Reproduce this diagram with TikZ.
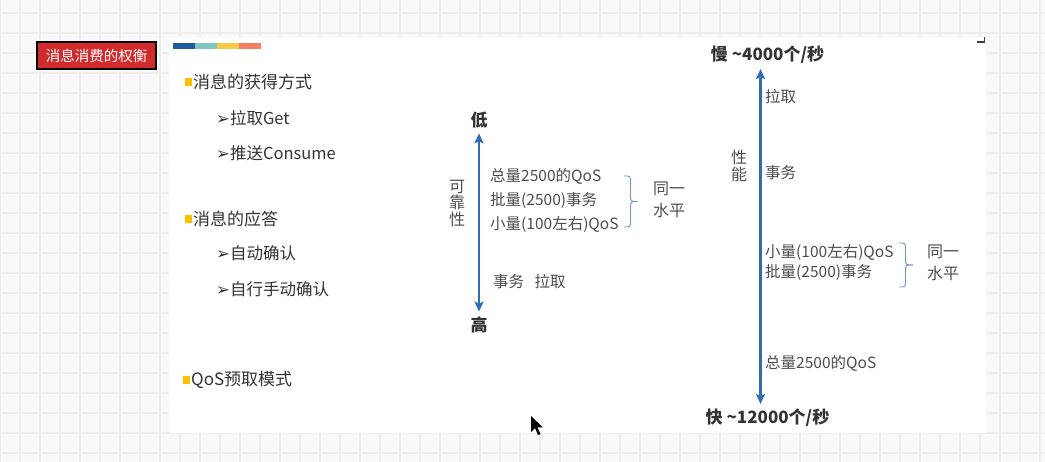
\documentclass[tikz,border=0pt]{standalone}
\usepackage{fontspec}
\setmainfont{Noto Sans CJK SC}
\newfontfamily\dingfont{DejaVu Sans}
\usetikzlibrary{arrows.meta,positioning}

\definecolor{gridbg}{HTML}{F9F9F9}
\definecolor{gridgray}{HTML}{EEEEEE}
\definecolor{titlered}{HTML}{D12B2B}
\definecolor{barblue}{HTML}{1F5C9E}
\definecolor{barteal}{HTML}{7FC6C3}
\definecolor{baryellow}{HTML}{F7C948}
\definecolor{barsalmon}{HTML}{F47E5F}
\definecolor{bulletyellow}{HTML}{FFC000}
\definecolor{maintext}{HTML}{333333}
\definecolor{labeltext}{HTML}{4D4D4D}
\definecolor{axisblue}{HTML}{2F6EB5}
\definecolor{braceblue}{HTML}{6A93C8}

\begin{document}
\begin{tikzpicture}[x=1pt, y=-1pt,
    gridline/.style={draw=gridgray, line width=1.5pt},
    titlebox/.style={fill=titlered, draw=black, line width=2pt, text=white,
      minimum width=119pt, minimum height=27pt, inner sep=0pt,
      font=\fontsize{14.5}{17}\selectfont},
    headitem/.style={anchor=west, inner sep=0pt, text=maintext,
      font=\fontsize{17}{20}\selectfont},
    subitem/.style={anchor=west, inner sep=0pt, text=maintext,
      font=\fontsize{16.5}{20}\selectfont},
    sqbullet/.style={fill=bulletyellow, minimum width=7pt, minimum height=8pt, inner sep=0pt},
    axisend/.style={inner sep=5pt, text=maintext, font=\bfseries\fontsize{17}{20}\selectfont},
    axislabel/.style={anchor=west, inner sep=0pt, text=labeltext,
      font=\fontsize{15.5}{19}\selectfont},
    sidelabel/.style={align=center, inner sep=0pt, text=labeltext,
      font=\fontsize{16}{16.5}\selectfont},
    levellabel/.style={align=center, inner sep=0pt, text=labeltext,
      font=\fontsize{16}{22}\selectfont},
    axisarrow/.style={{Stealth[length=10pt,width=9pt,inset=2pt]}-{Stealth[length=10pt,width=9pt,inset=2pt]},
      draw=axisblue, line width=2.2pt},
    levelbrace/.style={draw=braceblue, line width=0.9pt, rounded corners=3pt}]
  \useasboundingbox (0,0) rectangle (1045,462);

  % Background grid
  \fill[gridbg] (0,0) rectangle (1045,462);
  \foreach \gx in {0,20,...,1040} \draw[gridline] (\gx,0) -- (\gx,462);
  \foreach \gy in {13,33,...,453} \draw[gridline] (0,\gy) -- (1045,\gy);

  % Slide
  \fill[white] (169,37) rectangle (986,433);
  \draw[darkgray, line width=1.5pt] (977,42) -- (984.5,42) -- (984.5,37);

  % Title
  \node[titlebox] (title) at (96.5,55.5) {消息消费的权衡};

  % Colour bar
  \foreach \c [count=\i from 0] in {barblue,barteal,baryellow,barsalmon}
    \fill[\c] (173+22*\i,43) rectangle (195+22*\i,49);

  % Bullet items
  \node[headitem] (getHead) at (193,82) {消息的获得方式};
  \node[sqbullet, left=1pt of getHead] (getSq) {};
  \node[subitem] (pull) at (216,118) {{\dingfont\bfseries ➢}拉取Get};
  \node[subitem] (push) at (216,153) {{\dingfont\bfseries ➢}推送Consume};

  \node[headitem] (ackHead) at (193,219) {消息的应答};
  \node[sqbullet, left=1pt of ackHead] (ackSq) {};
  \node[subitem] (autoAck) at (216,253) {{\dingfont\bfseries ➢}自动确认};
  \node[subitem] (manualAck) at (216,289) {{\dingfont\bfseries ➢}自行手动确认};

  \node[headitem] (qosHead) at (191,380) {QoS预取模式};
  \node[sqbullet, left=1pt of qosHead] (qosSq) {};

  % Reliability axis
  \node[axisend] (low) at (479,120) {低};
  \node[axisend] (high) at (479,325) {高};
  \draw[axisarrow] (low.south) -- (high.north);
  \node[sidelabel] (rel) at (457,203) {可\\靠\\性};

  \node[axislabel] (relQos) at (490,176) {总量2500的QoS};
  \node[axislabel] (relBatch) at (490,201) {批量(2500)事务};
  \node[axislabel] (relSmall) at (490,225) {小量(100左右)QoS};
  \coordinate (relBraceTop) at (624,176);
  \coordinate (relBraceBot) at (624,227);
  \coordinate (relBraceTip) at (637,201.5);
  \draw[levelbrace] (relBraceTop) -- ++(6.5,0) |- (relBraceTip);
  \draw[levelbrace] (relBraceBot) -- ++(6.5,0) |- (relBraceTip);
  \node[levellabel] (relSame) at (669,200) {同一\\水平};
  \node[axislabel] (relTxPull) at (493,282) {事务\hspace{7pt} 拉取};

  % Performance axis
  \node[axisend] (slow) at (767.5,55) {慢 \textasciitilde4000个/秒};
  \node[axisend] (fast) at (767.5,418) {快 \textasciitilde12000个/秒};
  \draw[axisarrow] ([xshift=-7pt]slow.south) -- ([xshift=-7pt]fast.north);
  \node[sidelabel] (perf) at (739,166) {性\\能};

  \node[axislabel] (perfPull) at (765,97) {拉取};
  \node[axislabel] (perfTx) at (765,173) {事务};
  \node[axislabel] (perfSmall) at (765,253) {小量(100左右)QoS};
  \node[axislabel] (perfBatch) at (765,273) {批量(2500)事务};
  \coordinate (perfBraceTop) at (899,243);
  \coordinate (perfBraceBot) at (899,287);
  \coordinate (perfBraceTip) at (913,265);
  \draw[levelbrace] (perfBraceTop) -- ++(6.5,0) |- (perfBraceTip);
  \draw[levelbrace] (perfBraceBot) -- ++(6.5,0) |- (perfBraceTip);
  \node[levellabel] (perfSame) at (943,263) {同一\\水平};
  \node[axislabel] (perfQos) at (765,363) {总量2500的QoS};

  % Pointer
  \fill[black] (531,416) -- ++(0,16) -- ++(4,-4) -- ++(3,7) -- ++(2.5,-1)
    -- ++(-3,-6.5) -- ++(5.5,0) -- cycle;
\end{tikzpicture}
\end{document}
